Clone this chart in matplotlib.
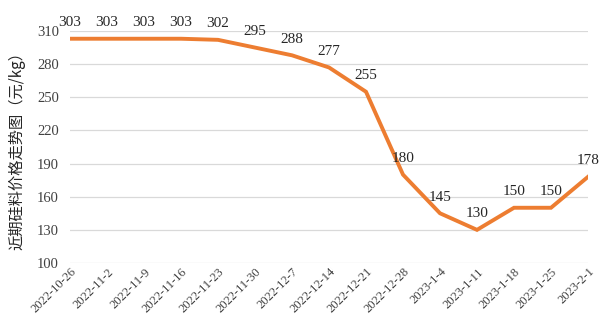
import matplotlib
matplotlib.use("Agg")
import matplotlib.pyplot as plt

dates = ["2022-10-26", "2022-11-2", "2022-11-9", "2022-11-16", "2022-11-23",
         "2022-11-30", "2022-12-7", "2022-12-14", "2022-12-21", "2022-12-28",
         "2023-1-4", "2023-1-11", "2023-1-18", "2023-1-25", "2023-2-1"]
prices = [303, 303, 303, 303, 302, 295, 288, 277, 255, 180, 145, 130, 150, 150, 178]
yticks = [100, 130, 160, 190, 220, 250, 280, 310]

fig = plt.figure(figsize=(6.07, 3.34), dpi=100)
ax = fig.add_axes([70/607, 1 - 263/334, (588-70)/607, (263-31)/334])

x = list(range(len(dates)))
ax.plot(x, prices, color="#ED7D31", lw=2.8, solid_joinstyle="miter", zorder=3)
for xi, v in zip(x, prices):
    ax.annotate(str(v), (xi, v), xytext=(0, 7), textcoords="offset points",
                ha="center", va="bottom", fontsize=11, family="Liberation Serif",
                color="#262626", zorder=4)

ax.set_xlim(0, len(dates) - 1)
ax.set_ylim(100, 310)
ax.set_yticks(yticks)
ax.set_yticklabels([str(t) for t in yticks], family="Liberation Serif", fontsize=10.5, color="#404040")
ax.set_xticks(x)
ax.set_xticklabels(dates, rotation=45, ha="right", rotation_mode="anchor",
                   family="Liberation Serif", fontsize=9, color="#404040")
ax.tick_params(length=0, pad=8)
ax.tick_params(axis="x", pad=2)
ax.grid(axis="y", color="#d9d9d9", lw=0.9, zorder=0)
for s in ax.spines.values():
    s.set_visible(False)
ax.set_ylabel("近期硅料价格走势图（元/kg）", family=["Noto Sans CJK SC", "DejaVu Sans"],
              fontsize=11, color="#262626", labelpad=8)

fig.savefig("out.png", dpi=100)
